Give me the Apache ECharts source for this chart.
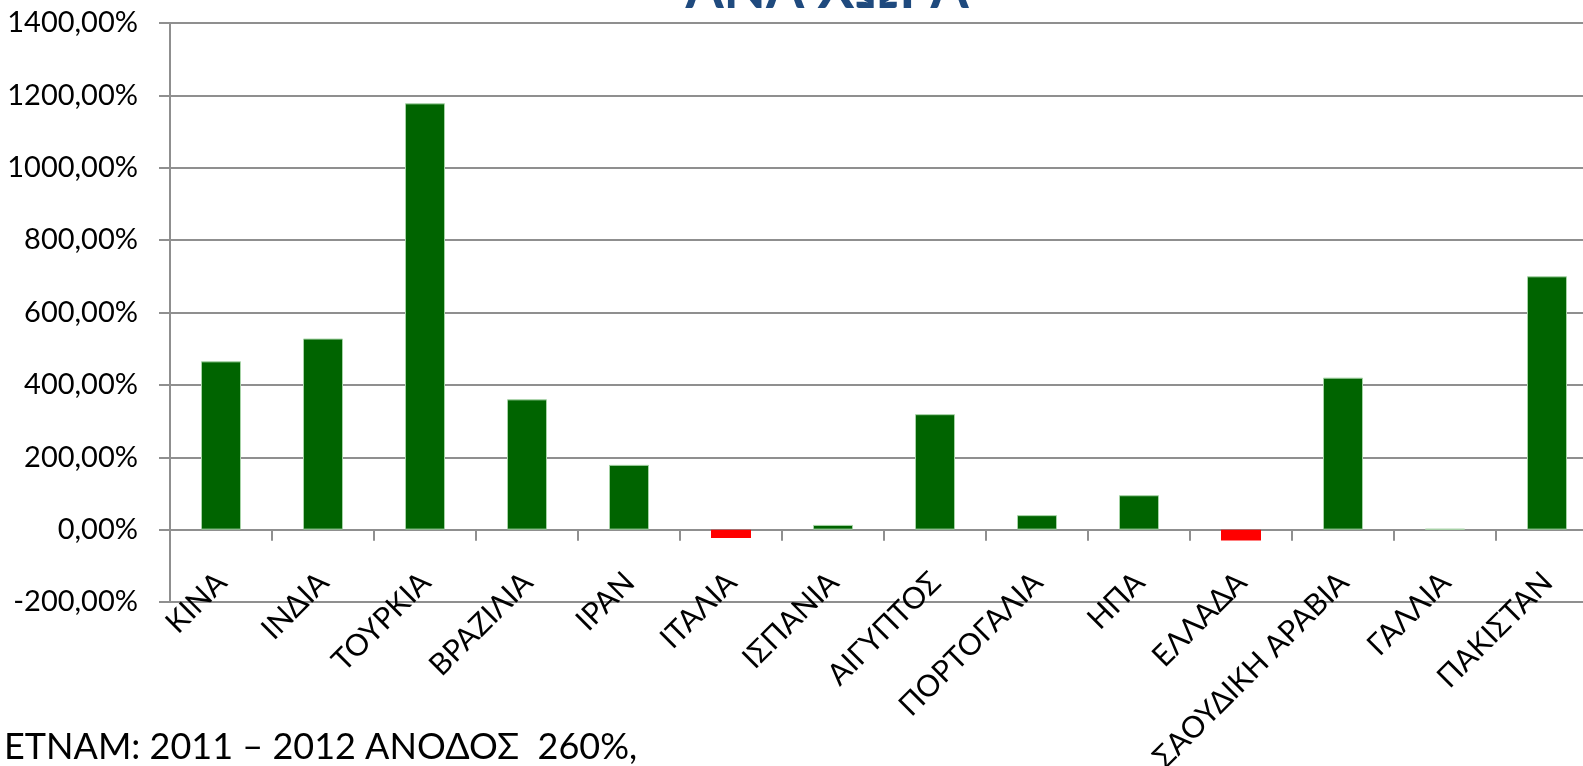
<!DOCTYPE html>
<html>
<head>
<meta charset="utf-8">
<script src="https://cdn.jsdelivr.net/npm/echarts@6/dist/echarts.min.js"></script>
<style>
html,body{margin:0;padding:0;background:#fff;}
#chart{width:1583px;height:766px;}
</style>
</head>
<body>
<div id="chart"></div>
<script>
const categories = ["ΚΙΝΑ","ΙΝΔΙΑ","ΤΟΥΡΚΙΑ","ΒΡΑΖΙΛΙΑ","ΙΡΑΝ","ΙΤΑΛΙΑ","ΙΣΠΑΝΙΑ","ΑΙΓΥΠΤΟΣ","ΠΟΡΤΟΓΑΛΙΑ","ΗΠΑ","ΕΛΛΑΔΑ","ΣΑΟΥΔΙΚΗ ΑΡΑΒΙΑ","ΓΑΛΛΙΑ","ΠΑΚΙΣΤΑΝ"];
const values = [465, 528, 1178, 360, 179, -23, 13, 319, 40, 95, -30, 420, 2, 700];
const yMin = -200, yMax = 1400, yStep = 200;
const titleText = "ΑΝΑ ΧΩΡΑ";
const noteText = "ΕΤΝΑΜ: 2011 – 2012 ΑΝΟΔΟΣ  260%,";

const FONT = "Lato, 'Open Sans', sans-serif";
const GRAY = "#8f8f8f";
const chart = echarts.init(document.getElementById('chart'), null, {renderer:'canvas'});
chart.setOption({
  animation: false,
  backgroundColor: '#ffffff',
  grid: {left: 170, top: 23, width: 1428, height: 579, containLabel: false, outerBoundsMode: 'none'},
  xAxis: {
    type: 'category',
    data: categories,
    axisLine: {onZero: true, lineStyle: {color: GRAY, width: 2}},
    axisTick: {show: true, length: 11, interval: 0, lineStyle: {color: GRAY, width: 2}},
    axisLabel: {interval: 0, rotate: 45, margin: -45, verticalAlign: 'top', padding: [0, 14, 0, 0],
      color: '#000', fontFamily: FONT, fontSize: 30},
    splitLine: {show: false}
  },
  yAxis: {
    type: 'value',
    min: yMin, max: yMax, interval: yStep,
    axisLine: {show: true, lineStyle: {color: GRAY, width: 2}},
    axisTick: {show: true, length: 11, lineStyle: {color: GRAY, width: 2}},
    axisLabel: {margin: 32, color: '#000', fontFamily: FONT, fontSize: 29,
      formatter: v => v.toFixed(2).replace('.', ',') + '%'},
    splitLine: {show: true, lineStyle: {color: GRAY, width: 2}}
  },
  series: [{
    type: 'bar',
    barWidth: 40,
    data: values.map(v => ({
      value: v,
      itemStyle: v < 0 ? {color: '#FF0000'} : {color: '#006400', borderColor: '#a6d3a6', borderWidth: 1}
    }))
  }],
  graphic: [
    {type: 'text', x: 827, y: -10, z: 10,
     style: {text: titleText, align: 'center', verticalAlign: 'middle',
       font: "bold 55px " + FONT, fill: '#1F4A7E'}},
    {type: 'text', x: 4, y: 747, z: 10,
     style: {text: noteText, align: 'left', verticalAlign: 'middle',
       font: "36px " + FONT, fill: '#000'}}
  ]
});
</script>
</body>
</html>
